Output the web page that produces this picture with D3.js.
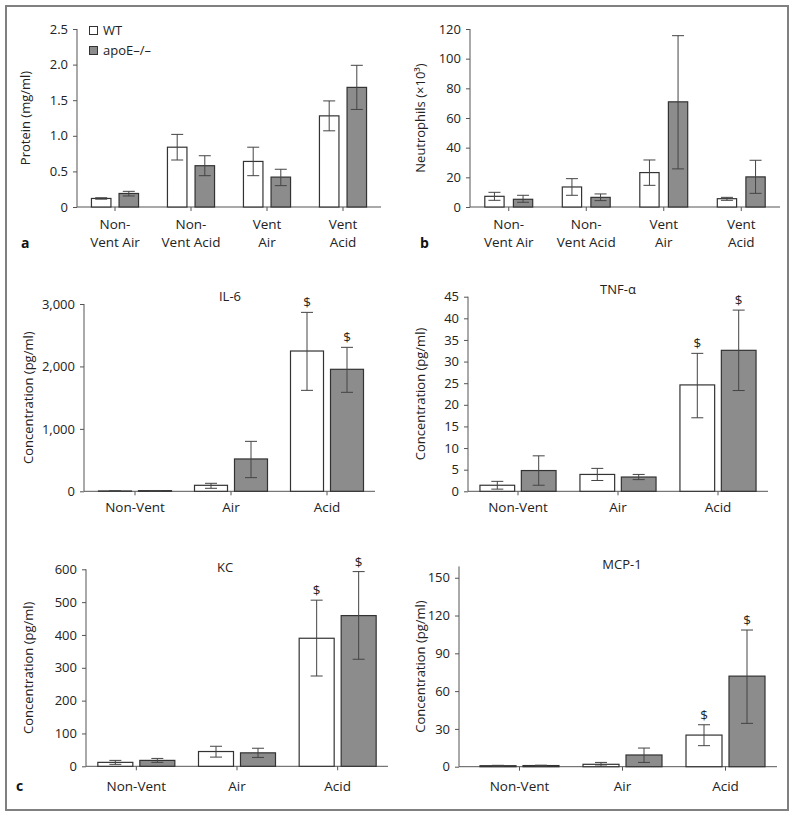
<!DOCTYPE html>
<html>
<head>
<meta charset="utf-8">
<script src="https://cdn.jsdelivr.net/npm/d3@7"></script>
<style>
  html, body { margin: 0; padding: 0; background: #fff; }
  svg { display: block; font-family: "Open Sans", "Noto Sans", sans-serif; }
</style>
</head>
<body>
<svg id="chart" width="795" height="816"></svg>
<script>
// ---------------- DATA ----------------
const seriesNames = ["WT", "apoE\u2013/\u2013"];

// Panel a: protein
const catsAB = [["Non-", "Vent Air"], ["Non-", "Vent Acid"], ["Vent", "Air"], ["Vent", "Acid"]];
const proteinWT = [0.12, 0.84, 0.64, 1.28];
const proteinWTLo = [0.11, 0.66, 0.44, 1.07];
const proteinWTHi = [0.13, 1.02, 0.84, 1.49];
const proteinKO = [0.19, 0.58, 0.42, 1.68];
const proteinKOLo = [0.155, 0.44, 0.30, 1.37];
const proteinKOHi = [0.22, 0.72, 0.53, 1.99];
const proteinTicks = [0, 0.5, 1.0, 1.5, 2.0, 2.5];

// Panel b: neutrophils
const neutWT = [7.2, 13.5, 23.2, 5.6];
const neutWTLo = [4.5, 7.9, 14.6, 4.5];
const neutWTHi = [9.9, 19.1, 31.7, 6.5];
const neutKO = [5.2, 6.5, 70.9, 20.3];
const neutKOLo = [3.2, 4.3, 25.7, 9.2];
const neutKOHi = [7.9, 8.8, 115.5, 31.5];
const neutTicks = [0, 20, 40, 60, 80, 100, 120];

// Panel c: cytokines
const catsC = ["Non-Vent", "Air", "Acid"];

const il6WT = [5, 96, 2247];
const il6WTLo = [3, 48, 1617];
const il6WTHi = [7, 128, 2866];
const il6KO = [10, 518, 1954];
const il6KOLo = [7, 219, 1585];
const il6KOHi = [13, 800, 2306];
const il6Ticks = [0, 1000, 2000, 3000];
const il6SigWT = [false, false, true];
const il6SigKO = [false, false, true];

const tnfWT = [1.4, 3.9, 24.6];
const tnfWTLo = [0.5, 2.5, 17.0];
const tnfWTHi = [2.3, 5.3, 31.9];
const tnfKO = [4.8, 3.3, 32.6];
const tnfKOLo = [1.4, 2.7, 23.3];
const tnfKOHi = [8.2, 3.9, 41.9];
const tnfTicks = [0, 5, 10, 15, 20, 25, 30, 35, 40, 45];

const kcWT = [12, 45, 390];
const kcWTLo = [6, 28, 275];
const kcWTHi = [18, 61, 506];
const kcKO = [18, 41, 459];
const kcKOLo = [12, 27, 326];
const kcKOHi = [24, 55, 593];
const kcTicks = [0, 100, 200, 300, 400, 500, 600];

const mcpWT = [0.8, 1.9, 25.1];
const mcpWTLo = [0.5, 0.5, 16.7];
const mcpWTHi = [1.1, 3.4, 33.3];
const mcpKO = [0.9, 9.3, 71.9];
const mcpKOLo = [0.6, 3.4, 34.4];
const mcpKOHi = [1.2, 14.8, 108.5];
const mcpTicks = [0, 30, 60, 90, 120, 150];

// ---------------- DRAWING ----------------
const svg = d3.select("#chart");
const COL_FILL = ["#ffffff", "#8c8c8c"];
const COL_STROKE = "#333";
const COL_AXIS = "#555";
const COL_TEXT = "#222";

svg.append("rect").attr("x", 6).attr("y", 6).attr("width", 782).attr("height", 804)
  .attr("fill", "none").attr("stroke", "#808080").attr("stroke-width", 2);

function panel(o) {
  const g = svg.append("g");
  const x = d3.scaleBand().domain(d3.range(o.cats.length)).range(o.xr);
  const y = d3.scaleLinear().domain(o.yDomain).range(o.yr);

  // y axis
  const ya = d3.axisLeft(y).tickValues(o.ticks).tickFormat(o.fmt).tickSize(4).tickPadding(5);
  const yg = g.append("g").attr("transform", `translate(${o.yAxisX},0)`).call(ya);
  yg.select(".domain").attr("d", `M0,${y(o.yDomain[1])}V${y(0)}`);
  // x axis
  const xa = d3.axisBottom(x).tickSize(4).tickFormat("");
  const xg = g.append("g").attr("transform", `translate(0,${y(0)})`).call(xa);
  xg.select(".domain").attr("d", `M${o.yAxisX},0H${o.xr[1]}`);
  [yg, xg].forEach(a => {
    a.selectAll(".domain, line").attr("stroke", COL_AXIS).attr("stroke-width", 1);
    a.selectAll("text").attr("fill", COL_TEXT).style("font-size", "13px").style("font-family", '"Open Sans", sans-serif');
  });

  // category labels
  o.cats.forEach((c, i) => {
    const lines = Array.isArray(c) ? c : [c];
    lines.forEach((t, j) => {
      g.append("text").attr("x", x(i) + x.bandwidth() / 2).attr("y", o.labY + j * 18)
        .attr("text-anchor", "middle").attr("fill", COL_TEXT).style("font-size", "13.5px").text(t);
    });
  });

  // bars
  const series = [
    { v: o.wt, lo: o.wtLo, hi: o.wtHi, sig: o.sigWT, off: -o.off },
    { v: o.ko, lo: o.koLo, hi: o.koHi, sig: o.sigKO, off: o.off }
  ];
  series.forEach((s, si) => {
    s.v.forEach((v, i) => {
      const cx = x(i) + x.bandwidth() / 2 + s.off;
      g.append("rect").attr("x", cx - o.bw / 2).attr("y", y(v))
        .attr("width", o.bw).attr("height", y(0) - y(v))
        .attr("fill", COL_FILL[si]).attr("stroke", COL_STROKE).attr("stroke-width", 1.2);
      const eg = g.append("g").attr("stroke", "#444").attr("stroke-width", 1);
      eg.append("line").attr("x1", cx).attr("x2", cx).attr("y1", y(s.lo[i])).attr("y2", y(s.hi[i]));
      eg.append("line").attr("x1", cx - 6).attr("x2", cx + 6).attr("y1", y(s.hi[i])).attr("y2", y(s.hi[i]));
      eg.append("line").attr("x1", cx - 6).attr("x2", cx + 6).attr("y1", y(s.lo[i])).attr("y2", y(s.lo[i]));
      if (s.sig && s.sig[i]) {
        g.append("text").attr("x", cx).attr("y", y(s.hi[i]) - 5).attr("text-anchor", "middle")
          .attr("fill", COL_TEXT).style("font-size", "13.5px").text("$");
      }
    });
  });

  // y title
  const yt = g.append("text").attr("transform", `translate(${o.ytX},${(y(0) + y(o.yDomain[1])) / 2}) rotate(-90)`)
    .attr("text-anchor", "middle").attr("dominant-baseline", "central")
    .attr("fill", COL_TEXT).style("font-size", "13px");
  if (o.ytitleSup) {
    yt.append("tspan").text(o.ytitle);
    yt.append("tspan").text(o.ytitleSup);
    yt.append("tspan").text(")");
  } else yt.text(o.ytitle);

  if (o.title) {
    g.append("text").attr("x", o.title[1]).attr("y", o.title[2]).attr("text-anchor", "middle")
      .attr("fill", COL_TEXT).style("font-size", "13px").text(o.title[0]);
  }
  if (o.letter) {
    g.append("text").attr("x", o.letter[1]).attr("y", o.letter[2]).attr("fill", "#111")
      .style("font-size", "14px").style("font-weight", "bold").text(o.letter[0]);
  }
  return { x, y };
}

const fmtDec = d => d === 0 ? "0" : d3.format(".1f")(d);
const fmtInt = d3.format("d");
const fmtComma = d3.format(",");

panel({
  cats: catsAB, xr: [77, 381], yAxisX: 77, yDomain: [0, 2.5], yr: [207, 29], ticks: proteinTicks, fmt: fmtDec,
  wt: proteinWT, wtLo: proteinWTLo, wtHi: proteinWTHi, ko: proteinKO, koLo: proteinKOLo, koHi: proteinKOHi,
  bw: 19.5, off: 13.8, labY: 229, ytitle: "Protein (mg/ml)", ytX: 25, letter: ["a", 21, 248]
});

panel({
  cats: catsAB, xr: [470, 780], yAxisX: 470, yDomain: [0, 120], yr: [207, 29], ticks: neutTicks, fmt: fmtInt,
  wt: neutWT, wtLo: neutWTLo, wtHi: neutWTHi, ko: neutKO, koLo: neutKOLo, koHi: neutKOHi,
  bw: 19.3, off: 14.3, labY: 229, ytitle: "Neutrophils (\u00d710", ytitleSup: "\u00b3", ytX: 420, letter: ["b", 420, 248]
});

panel({
  cats: catsC, xr: [87, 375], yAxisX: 84, yDomain: [0, 3000], yr: [491.3, 304], ticks: il6Ticks, fmt: fmtComma,
  wt: il6WT, wtLo: il6WTLo, wtHi: il6WTHi, ko: il6KO, koLo: il6KOLo, koHi: il6KOHi, sigWT: il6SigWT, sigKO: il6SigKO,
  bw: 33, off: 20, labY: 512, ytitle: "Concentration (pg/ml)", ytX: 28, title: ["IL-6", 230, 301]
});

panel({
  cats: catsC, xr: [468, 768], yAxisX: 468, yDomain: [0, 45], yr: [491.3, 296.7], ticks: tnfTicks, fmt: fmtInt,
  wt: tnfWT, wtLo: tnfWTLo, wtHi: tnfWTHi, ko: tnfKO, koLo: tnfKOLo, koHi: tnfKOHi, sigWT: [false, false, true], sigKO: [false, false, true],
  bw: 34.7, off: 20.7, labY: 512, ytitle: "Concentration (pg/ml)", ytX: 420, title: ["TNF-\u03b1", 618, 294]
});

panel({
  cats: catsC, xr: [86, 388], yAxisX: 86, yDomain: [0, 600], yr: [766.3, 569.3], ticks: kcTicks, fmt: fmtInt,
  wt: kcWT, wtLo: kcWTLo, wtHi: kcWTHi, ko: kcKO, koLo: kcKOLo, koHi: kcKOHi, sigWT: [false, false, true], sigKO: [false, false, true],
  bw: 35, off: 21, labY: 791, ytitle: "Concentration (pg/ml)", ytX: 28, title: ["KC", 225, 572], letter: ["c", 16, 791]
});

panel({
  cats: catsC, xr: [468, 777], yAxisX: 459, yDomain: [0, 159], yr: [766.7, 566.4], ticks: mcpTicks, fmt: fmtInt,
  wt: mcpWT, wtLo: mcpWTLo, wtHi: mcpWTHi, ko: mcpKO, koLo: mcpKOLo, koHi: mcpKOHi, sigWT: [false, false, true], sigKO: [false, false, true],
  bw: 36, off: 21.5, labY: 791, ytitle: "Concentration (pg/ml)", ytX: 420, title: ["MCP-1", 622, 569]
});

// legend (panel a)
const legend = svg.append("g");
seriesNames.forEach((n, i) => {
  legend.append("rect").attr("x", 89.5).attr("y", 26.5 + i * 20).attr("width", 8).attr("height", 8)
    .attr("fill", COL_FILL[i]).attr("stroke", COL_STROKE).attr("stroke-width", 1);
  legend.append("text").attr("x", 103).attr("y", 35 + i * 20).attr("fill", COL_TEXT)
    .style("font-size", "13px").text(n);
});
</script>
</body>
</html>
